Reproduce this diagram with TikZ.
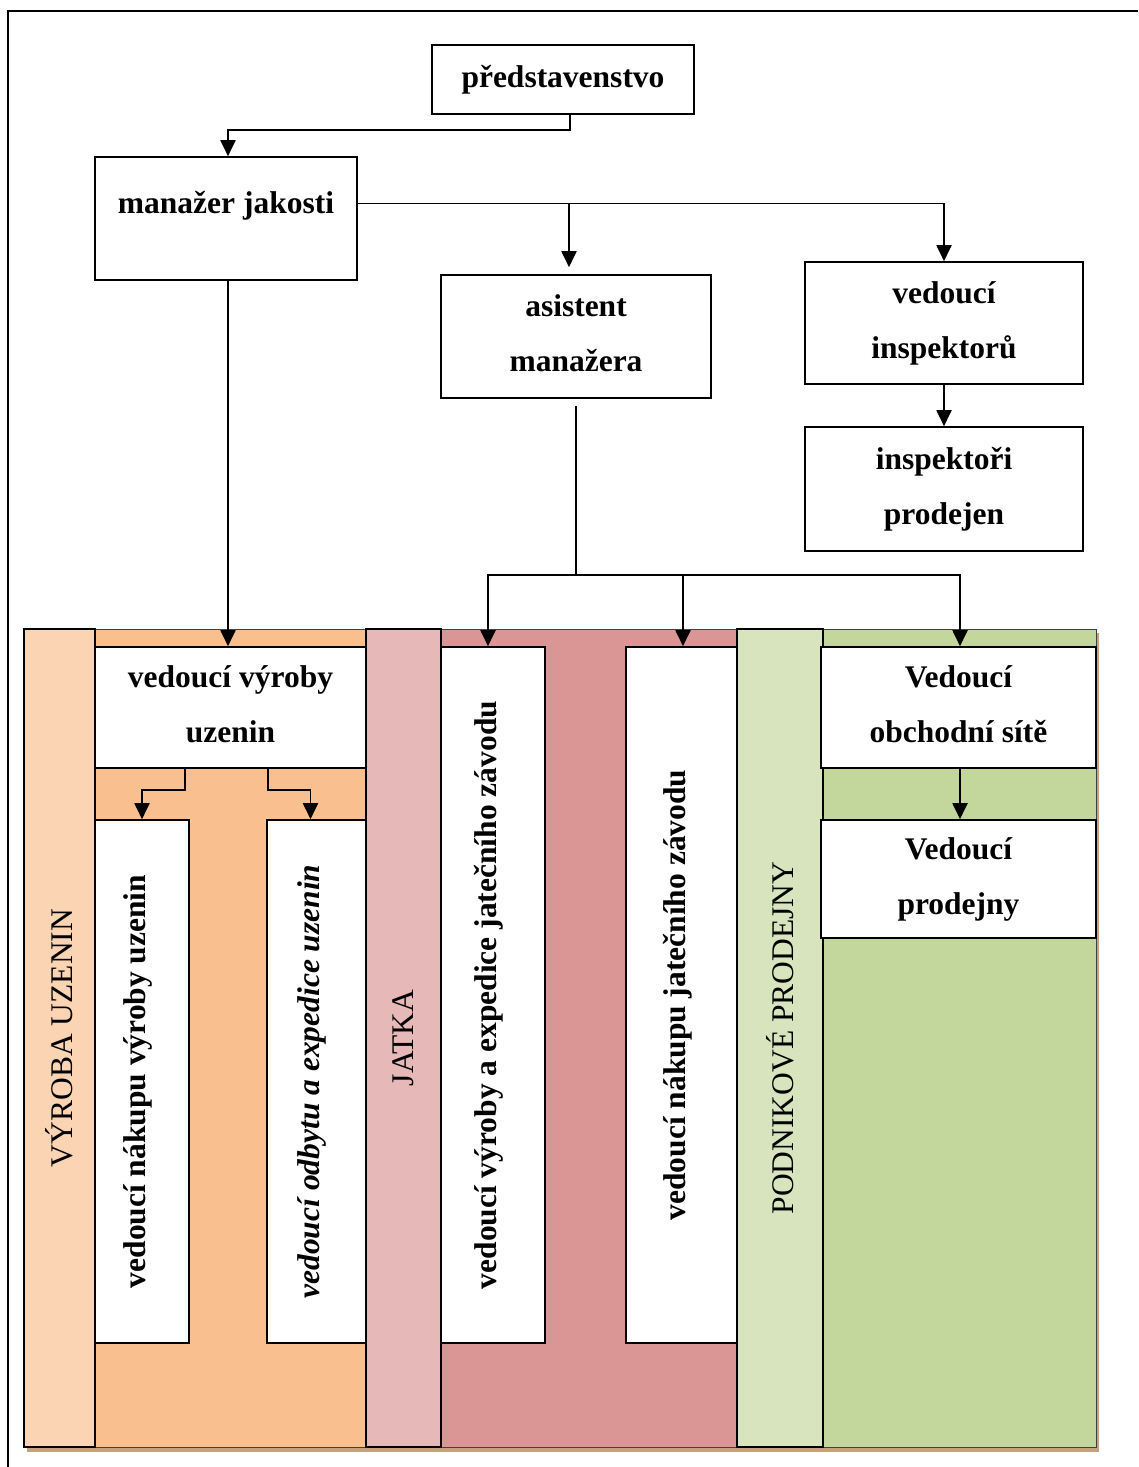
\documentclass[tikz,border=0pt]{standalone}
\usepackage{fontspec}
\setmainfont{Liberation Serif}
\usetikzlibrary{arrows.meta}
\definecolor{uzenlite}{HTML}{FBD4B4}
\definecolor{uzen}{HTML}{F9BF8F}
\definecolor{jatklite}{HTML}{E6B9B8}
\definecolor{jatk}{HTML}{D99694}
\definecolor{prodlite}{HTML}{D7E4BD}
\definecolor{prod}{HTML}{C3D69B}
\definecolor{stin}{HTML}{C9A17F}
\begin{document}
\begin{tikzpicture}[x=1pt,y=-1pt,
	box/.style={draw,line width=1.6pt,fill=white,align=center,inner sep=0pt,font=\fontsize{31.5}{55}\selectfont\bfseries},
	hbox/.style={box,text depth=6pt},
	vbox/.style={box,rotate=90,text depth=15pt},
	strip/.style={draw,line width=1.8pt,inner sep=0pt,rotate=90,minimum width=818pt,font=\fontsize{31.5}{38}\selectfont},
	arr/.style={line width=1.9pt,-{Triangle[width=15pt,length=16pt]}}]
	\useasboundingbox (0,0) rectangle (1138,1467) ;
	\draw[line width=1.6pt] (8,1467) -- (8,11) -- (1138,11) ;
	% panely
	\fill[stin] (27,633) rectangle (1099,1452) ;
	\draw[fill=uzen,draw=black!75,line width=1pt] (95,629) rectangle (366,1447) ;
	\draw[fill=jatk,draw=black!75,line width=1pt] (441,629) rectangle (737,1447) ;
	\draw[fill=prod,draw=black!75,line width=1pt] (823,629) rectangle (1096,1447) ;
	\node[strip,fill=uzenlite,minimum height=71pt] (uzenin) at (59.5,1038) {VÝROBA UZENIN} ;
	\node[strip,fill=jatklite,minimum height=75pt] (jatka) at (403.5,1038) {JATKA} ;
	\node[strip,fill=prodlite,minimum height=86pt] (prodejny) at (780,1038) {PODNIKOVÉ PRODEJNY} ;
	% vedeni
	\node[box,minimum width=262pt,minimum height=69pt] (pred) at (563,79.5) {představenstvo} ;
	\node[box,minimum width=262pt,minimum height=123pt] (mj) at (226,218.5) {} ;
	\node[font=\fontsize{31.5}{55}\selectfont\bfseries,inner sep=0pt] (mjtext) at (226,206) {manažer jakosti} ;
	\node[hbox,minimum width=270pt,minimum height=123pt] (as) at (576,336.5) {asistent\\manažera} ;
	\node[hbox,minimum width=278pt,minimum height=122pt] (vi) at (944,323) {vedoucí\\inspektorů} ;
	\node[hbox,minimum width=278pt,minimum height=124pt] (ip) at (944,489) {inspektoři\\prodejen} ;
	% useky
	\node[hbox,minimum width=271pt,minimum height=121pt] (vvu) at (230.5,707.5) {vedoucí výroby\\uzenin} ;
	\node[vbox,minimum width=523pt,minimum height=94pt] (vn) at (142,1081.5) {vedoucí nákupu výroby uzenin} ;
	\node[vbox,minimum width=523pt,minimum height=99pt] (vo) at (316.5,1081.5) {\itshape vedoucí odbytu a expedice uzenin} ;
	\node[vbox,minimum width=696pt,minimum height=104pt] (vvj) at (493,995) {vedoucí výroby a expedice jatečního závodu} ;
	\node[vbox,minimum width=696pt,minimum height=111pt] (vnj) at (681.5,995) {vedoucí nákupu jatečního závodu} ;
	\node[hbox,minimum width=275pt,minimum height=121pt] (vos) at (958.5,707.5) {Vedoucí\\obchodní sítě} ;
	\node[hbox,minimum width=275pt,minimum height=118pt] (vp) at (958.5,879) {Vedoucí\\prodejny} ;
	% spojnice
	\coordinate (fork1) at (569,203) ;
	\coordinate (fork2) at (576,575) ;
	\draw[arr] ([xshift=7pt]pred.south) -- ++(0,15) -| ([xshift=2pt]mj.north) ;
	\draw[arr] ([yshift=15pt]mj.east) -| (vi.north) ;
	\draw[arr] (fork1) -- ([xshift=-7pt,yshift=7pt]as.north) ;
	\draw[arr] ([xshift=2pt]mj.south) -- ([xshift=-2.5pt]vvu.north) ;
	\draw[arr] (vi.south) -- (ip.north) ;
	\draw[line width=1.9pt] ([yshift=-7pt]as.south) -- (fork2) ;
	\draw[arr] (fork2) -| ([xshift=-5pt]vvj.east) ;
	\draw[arr] (fork2) -| ([xshift=1.5pt]vnj.east) ;
	\draw[arr] (fork2) -| ([xshift=1.5pt]vos.north) ;
	\draw[arr] ([xshift=-45.5pt]vvu.south) -- ++(0,21) -| (vn.east) ;
	\draw[arr] ([xshift=37.5pt]vvu.south) -- ++(0,21) -| ([xshift=-6pt]vo.east) ;
	\draw[arr] ([xshift=1.5pt]vos.south) -- ([xshift=1.5pt]vp.north) ;
\end{tikzpicture}
\end{document}
